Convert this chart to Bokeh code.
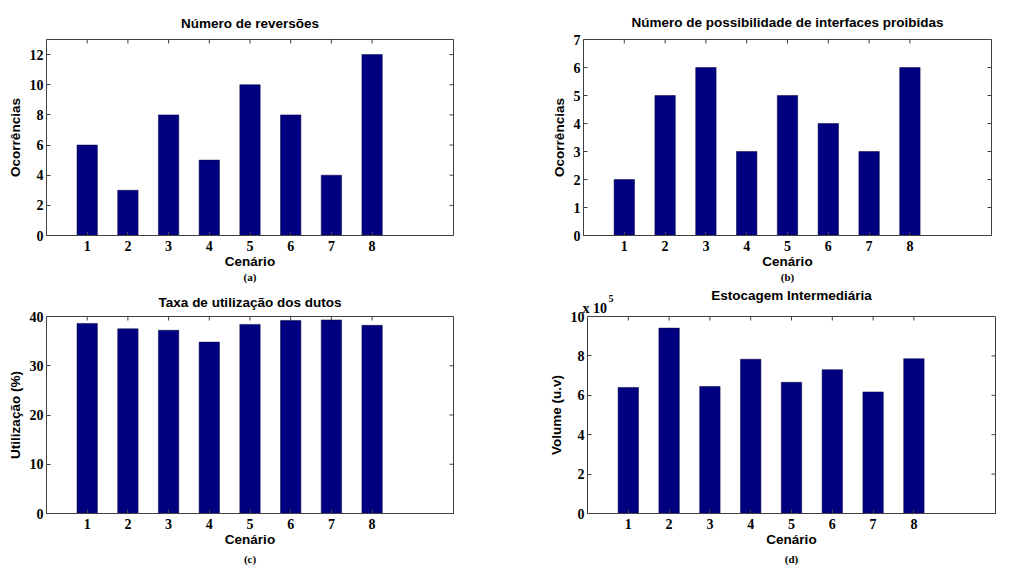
import math
from bokeh.plotting import figure
from bokeh.models import FixedTicker, Title, Range1d, CustomJSTickFormatter
from bokeh.layouts import column, row
from bokeh.embed import file_html
from bokeh.resources import INLINE

cenarios = [1, 2, 3, 4, 5, 6, 7, 8]
reversoes = [6, 3, 8, 5, 10, 8, 4, 12]
interfaces = [2, 5, 6, 3, 5, 4, 3, 6]
utilizacao = [38.6, 37.5, 37.2, 34.8, 38.4, 39.2, 39.3, 38.2]
estocagem = [640000, 941000, 645000, 783000, 666000, 730000, 617000, 786000]

yticks_a = [0, 2, 4, 6, 8, 10, 12]
yticks_b = [0, 1, 2, 3, 4, 5, 6, 7]
yticks_c = [0, 10, 20, 30, 40]
yticks_d = [0, 200000, 400000, 600000, 800000, 1000000]

BAR = "#000080"
EDGE = "#404040"
SANS = "Liberation Sans"
SERIF = "Liberation Serif"


def make(title, caption, values, ylabel, ymax, yticks, bl, bt, br, fw, fh, bb,
         title_standoff, cap_standoff, formatter=None, multiplier=None):
    p = figure(frame_width=fw, frame_height=fh, min_border_left=bl, min_border_top=bt,
               min_border_right=br, min_border_bottom=bb,
               x_range=Range1d(0, 10), y_range=Range1d(0, ymax),
               output_backend="svg", toolbar_location=None, title=None)
    p.vbar(x=cenarios, top=values, width=0.5, bottom=0, fill_color=BAR,
           line_color="#000040", line_width=0.5)
    p.grid.visible = False
    p.outline_line_color = EDGE
    p.outline_line_width = 1
    p.background_fill_color = "white"
    p.border_fill_color = "white"

    for ax in (p.xaxis[0], p.yaxis[0]):
        ax.major_tick_in = 4
        ax.major_tick_out = 0
        ax.minor_tick_line_color = None
        ax.axis_line_color = EDGE
        ax.major_tick_line_color = EDGE
        ax.major_label_text_font = SERIF
        ax.major_label_text_font_style = "bold"
        ax.major_label_text_font_size = "14px"
        ax.major_label_text_color = "black"
        ax.axis_label_text_font = SANS
        ax.axis_label_text_font_style = "bold"
        ax.axis_label_text_font_size = "13.5px"
        ax.axis_label_text_color = "black"
    p.xaxis[0].ticker = FixedTicker(ticks=cenarios)
    p.yaxis[0].ticker = FixedTicker(ticks=yticks)
    p.xaxis[0].major_label_standoff = 5
    p.yaxis[0].major_label_standoff = 3
    p.xaxis[0].axis_label_standoff = 0
    p.yaxis[0].axis_label_standoff = 4
    p.xaxis[0].axis_label = "Cenário"
    p.yaxis[0].axis_label = ylabel
    if formatter is not None:
        p.yaxis[0].formatter = formatter

    # inward ticks on the top and right edges (MATLAB box style), clipped by the frame
    xr, yr = p.x_range, p.y_range
    p.scatter(x=cenarios, y=[yr.end] * len(cenarios), marker="dash", size=8,
              angle=math.pi / 2, line_color=EDGE, line_width=1)
    p.scatter(x=[xr.end] * len(yticks), y=yticks, marker="dash", size=8,
              line_color=EDGE, line_width=1)

    if multiplier is not None:
        base, expo = multiplier
        e1 = Title(text=base, align="left", text_font=SERIF, text_font_style="bold",
                   text_font_size="14px", text_color="black", standoff=1, offset=-5)
        p.add_layout(e1, "above")
        e2 = Title(text=expo, align="left", text_font=SERIF, text_font_style="bold",
                   text_font_size="10px", text_color="black", standoff=-6, offset=21)
        p.add_layout(e2, "above")
    t = Title(text=title, align="center", text_font=SANS, text_font_style="bold",
              text_font_size="13.5px", text_color="black", standoff=title_standoff)
    p.add_layout(t, "above")
    c = Title(text=caption, align="center", text_font=SERIF, text_font_style="bold",
              text_font_size="11px", text_color="black", standoff=cap_standoff)
    p.add_layout(c, "below")
    return p


pa = make("Número de reversões", "(a)", reversoes, "Ocorrências", 13, yticks_a,
          46, 39, 92, 407, 196, 50, 17, -6)
pb = make("Número de possibilidade de interfaces proibidas", "(b)", interfaces, "Ocorrências", 7,
          yticks_b, 38, 39, 10, 408, 196, 50, 20, -6)
pc = make("Taxa de utilização dos dutos", "(c)", utilizacao, "Utilização (%)", 40, yticks_c,
          46, 30, 92, 407, 197, 58, 14, 2)
fmt = CustomJSTickFormatter(code="return (tick / 1e5).toFixed(0);")
pd_ = make("Estocagem Intermediária", "(d)", estocagem, "Volume (u.v)", 1000000, yticks_d,
           38, 30, 10, 408, 197, 58, -14, 2, formatter=fmt, multiplier=("x 10", "5"))

layout = column(row(pa, pb), row(pc, pd_))
open("out.html", "w").write(file_html(layout, INLINE))
